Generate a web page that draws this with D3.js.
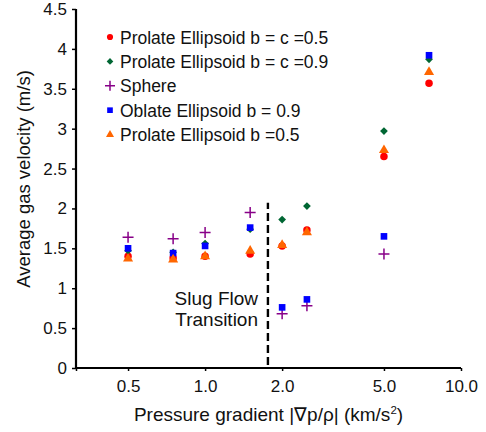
<!DOCTYPE html>
<html>
<head>
<meta charset="utf-8">
<script src="https://cdn.jsdelivr.net/npm/d3@7"></script>
<style>
  body { margin: 0; background: #fff; }
  text { font-family: "Liberation Sans", Arial, sans-serif; }
</style>
</head>
<body>
<div id="chart"></div>
<script>
// Pressure gradient values (km/s^2)
const gradients = [0.5, 0.75, 1.0, 1.5, 2.0, 2.5, 5.0, 7.5];

// Average gas velocity (m/s) per shape
const prolate05 = [1.40, 1.38, 1.40, 1.43, 1.53, 1.73, 2.65, 3.57];
const prolate09 = [1.47, 1.45, 1.56, 1.74, 1.86, 2.03, 2.97, 3.87];
const sphere = [1.64, 1.62, 1.70, 1.95, 0.68, 0.78, 1.43, null];
const oblate09 = [1.50, 1.44, 1.53, 1.76, 0.76, 0.86, 1.65, 3.92];
const prolateB05 = [1.37, 1.36, 1.40, 1.47, 1.54, 1.70, 2.73, 3.71];

const seriesNames = [
    'Prolate Ellipsoid b = c =0.5',
    'Prolate Ellipsoid b = c =0.9',
    'Sphere',
    'Oblate Ellipsoid b = 0.9',
    'Prolate Ellipsoid b =0.5'
];

const xTicks = [0.5, 1.0, 2.0, 5.0, 10.0];
const yTicks = [0, 0.5, 1, 1.5, 2, 2.5, 3, 3.5, 4, 4.5];
const transitionX = 1.76;
const transitionTop = 2.07;

const width = 486, height = 432;
const margin = { left: 76, right: 25, top: 9, bottom: 64 };

const svg = d3.select('#chart')
    .append('svg')
    .attr('width', width)
    .attr('height', height);

const xMin = 0.313;
const x = d3.scaleLog()
    .domain([xMin, 10])
    .range([margin.left, width - margin.right]);

const y = d3.scaleLinear()
    .domain([0, 4.5])
    .range([height - margin.bottom, margin.top]);

const styles = [
    { values: prolate05, color: '#ff0000', symbol: d3.symbolCircle, size: 44, legendSize: 30 },
    { values: prolate09, color: '#006633', symbol: 'diamond', size: 30, legendSize: 22 },
    { values: sphere, color: '#880088', symbol: 'plus', size: 11, legendSize: 10 },
    { values: oblate09, color: '#0000ff', symbol: d3.symbolSquare, size: 44, legendSize: 32 },
    { values: prolateB05, color: '#ff6600', symbol: d3.symbolTriangle, size: 44, legendSize: 28 }
];

// Draw one marker at (cx, cy)
const drawMarker = (g, s, cx, cy, size) => {
    if (s.symbol === 'plus') {
        const h = size / 2;
        g.append('path')
            .attr('d', `M${cx - h},${cy}H${cx + h}M${cx},${cy - h}V${cy + h}`)
            .attr('stroke', s.color)
            .attr('stroke-width', 1.5)
            .attr('fill', 'none');
    } else if (s.symbol === 'diamond') {
        g.append('path')
            .attr('d', d3.symbol().type(d3.symbolSquare).size(size)())
            .attr('transform', `translate(${cx},${cy}) rotate(45)`)
            .attr('fill', s.color);
    } else {
        g.append('path')
            .attr('d', d3.symbol().type(s.symbol).size(size)())
            .attr('transform', `translate(${cx},${cy})`)
            .attr('fill', s.color);
    }
};

// Axes
const xAxis = svg.append('g')
    .attr('transform', `translate(0,${y(0)})`)
    .call(d3.axisBottom(x)
        .tickValues([xMin].concat(xTicks))
        .tickFormat(d => d < 0.4 ? '' : d3.format('.1f')(d))
        .tickSize(3)
        .tickPadding(9));

xAxis.select('.domain').attr('stroke-width', 2.2).attr('d', `M${x(xMin)},0H${x(10)}`);
xAxis.selectAll('line').attr('stroke-width', 1.5);
xAxis.selectAll('text').style('font-size', '17px').attr('fill', '#111');

const yAxis = svg.append('g')
    .attr('transform', `translate(${margin.left},0)`)
    .call(d3.axisLeft(y).tickValues(yTicks).tickFormat(d3.format('')).tickSize(4).tickPadding(5));

yAxis.select('.domain').attr('stroke-width', 2.2).attr('d', `M0,${y(4.5)}V${y(0)}`);
yAxis.selectAll('line').attr('stroke-width', 1.5);
yAxis.selectAll('text').style('font-size', '17px').attr('fill', '#111');

// Axis titles
const xTitle = svg.append('text')
    .attr('x', (x(xMin) + x(10)) / 2)
    .attr('y', 420.5)
    .attr('text-anchor', 'middle')
    .style('font-size', '19px')
    .attr('fill', '#111');
xTitle.append('tspan').text('Pressure gradient |∇p/ρ| (km/s');
xTitle.append('tspan').text('2').attr('dy', -7).style('font-size', '11.5px');
xTitle.append('tspan').text(')').attr('dy', 7);

svg.append('text')
    .attr('transform', `translate(30,179) rotate(-90)`)
    .attr('text-anchor', 'middle')
    .style('font-size', '18.5px')
    .attr('fill', '#111')
    .text('Average gas velocity (m/s)');

// Slug flow transition marker
svg.append('line')
    .attr('x1', x(transitionX)).attr('x2', x(transitionX))
    .attr('y1', y(0) - 3).attr('y2', y(transitionTop))
    .attr('stroke', '#000')
    .attr('stroke-width', 2.4)
    .attr('stroke-dasharray', '8,4');

const slug = svg.append('text')
    .attr('text-anchor', 'end')
    .style('font-size', '19px')
    .attr('fill', '#111');
slug.append('tspan').attr('x', 258).attr('y', 305).text('Slug Flow');
slug.append('tspan').attr('x', 258).attr('y', 325.7).text('Transition');

// Data points
const points = svg.append('g');
styles.forEach(s => {
    s.values.forEach((v, i) => {
        if (v === null) return;
        drawMarker(points, s, x(gradients[i]), y(v), s.size);
    });
});

// Legend
const legend = svg.append('g');
seriesNames.forEach((name, i) => {
    const ly = 37 + i * 24.4;
    drawMarker(legend, styles[i], 110, ly, styles[i].legendSize);
    legend.append('text')
        .attr('x', 120)
        .attr('y', ly + 6.5)
        .style('font-size', '17.5px')
        .attr('fill', '#111')
        .text(name);
});
</script>
</body>
</html>
